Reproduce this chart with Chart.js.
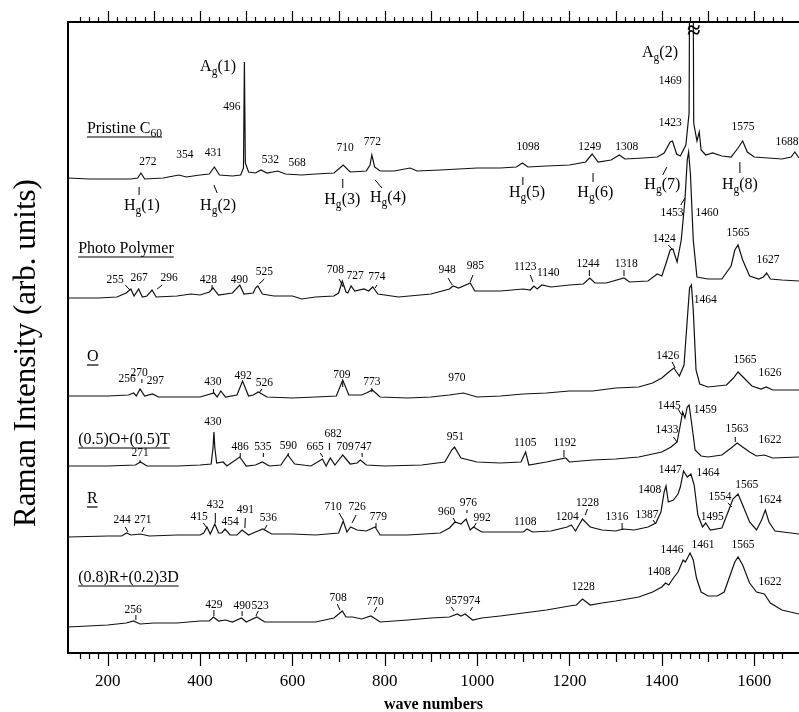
<!DOCTYPE html>
<html><head><meta charset="utf-8">
<script src="https://cdn.jsdelivr.net/npm/chart.js@4/dist/chart.umd.min.js"></script>
<style>html,body{margin:0;padding:0;background:#fff;}canvas{display:block;}</style>
</head><body>
<canvas id="c" width="799" height="712"></canvas>
<script>
// ---- axis ----
const tickLabels = [200,400,600,800,1000,1200,1400,1600];
const xMin = 114, xMax = 1697;

// ---- spectra (wave number, intensity in arb. units) ----
const pristineW = [114,160,200,250,265,272,280,320,354,370,400,420,431,442,470,488,494,496,498,505,520,532,545,568,585,620,650,690,710,725,760,768,772,778,790,820,855,870,920,960,1000,1050,1085,1098,1110,1150,1200,1235,1249,1262,1290,1308,1320,1360,1390,1405,1418,1423,1432,1440,1452,1459,1462,1466,1469,1476,1481,1485,1495,1510,1530,1550,1565,1575,1585,1600,1630,1660,1680,1688,1697];
const pristineI = [475,474,474,474,475,480,474,475,478,476,478,479,486,478,477,478,485,591,490,481,480,483,480,482,479,478,479,480,488,481,482,488,498,486,482,482,485,482,483,484,485,485,486,490,486,487,488,491,499,491,493,498,494,495,496,500,511,512,499,497,508,540,900,900,530,512,521,503,498,500,497,496,505,512,501,496,495,494,496,501,495];

const polymerW = [114,180,220,240,250,257,267,275,285,296,305,350,380,400,420,428,440,470,486,495,515,520,525,535,560,600,620,650,690,700,708,716,720,727,735,755,765,774,785,830,900,940,948,960,985,995,1050,1100,1115,1123,1130,1140,1160,1200,1230,1244,1255,1280,1318,1330,1370,1390,1400,1410,1418,1424,1433,1442,1450,1455,1458,1462,1468,1476,1500,1530,1550,1558,1565,1575,1590,1610,1620,1627,1635,1660,1697];
const polymerI = [355,355,356,360,364,357,364,356,357,363,356,357,359,358,361,365,358,360,368,359,360,365,367,359,357,357,354,356,357,360,372,361,360,367,362,364,362,366,359,356,359,364,367,365,370,362,362,364,363,367,364,368,366,368,369,375,370,370,375,371,372,379,377,391,403,404,391,413,453,493,501,478,413,376,374,374,387,403,408,393,377,374,376,380,374,373,372];

const oW = [114,200,245,256,262,270,280,297,310,400,430,437,445,455,480,492,505,515,526,545,600,650,695,709,722,750,760,773,790,850,900,940,970,1000,1050,1100,1150,1200,1250,1300,1350,1380,1400,1415,1426,1438,1448,1455,1460,1464,1468,1474,1482,1500,1540,1555,1565,1580,1595,1615,1626,1640,1697];
const oI = [257,257,258,260,257,264,257,259,256,256,260,256,262,256,258,272,257,258,261,256,255,256,257,273,258,258,260,263,256,255,256,258,260,256,257,259,260,262,262,265,266,270,275,281,285,277,288,333,365,368,343,283,269,266,268,275,281,274,267,264,266,263,263];

const otW = [114,200,260,271,285,350,400,424,428,430,432,436,450,458,486,500,520,535,550,575,590,605,640,665,673,682,692,709,725,740,747,760,800,880,930,945,951,965,1000,1050,1095,1105,1112,1150,1192,1200,1250,1300,1350,1400,1420,1433,1440,1445,1450,1455,1459,1465,1472,1485,1500,1530,1550,1563,1575,1590,1605,1622,1640,1697];
const otI = [187,187,188,191,187,187,188,189,205,221,205,190,191,187,196,187,188,191,187,188,198,189,187,194,187,195,188,198,189,190,193,188,187,188,191,203,206,195,191,190,191,201,188,191,195,191,193,194,196,201,206,211,228,241,235,246,248,228,203,197,196,198,205,210,206,201,197,198,195,196];

const rW = [114,200,230,241,250,271,290,350,400,408,415,422,432,440,447,454,465,480,491,505,520,536,555,600,650,700,710,718,726,740,760,779,790,850,920,940,952,965,976,985,992,1010,1050,1100,1108,1120,1160,1195,1204,1213,1228,1245,1270,1300,1316,1340,1370,1387,1398,1405,1409,1414,1425,1435,1440,1447,1455,1463,1470,1478,1488,1495,1505,1530,1545,1554,1565,1575,1590,1605,1616,1624,1632,1645,1697];
const rI = [116,117,117,120,118,119,117,118,118,120,126,119,129,120,120,124,118,118,123,118,121,124,119,119,118,120,132,121,126,123,122,126,118,118,120,125,131,129,134,123,126,121,121,121,124,121,122,126,128,122,134,126,123,122,124,123,126,130,141,161,167,151,153,159,166,182,176,179,168,138,126,130,123,125,143,154,159,148,131,123,133,143,131,122,119];

const r3dW = [114,200,240,256,270,300,350,400,420,429,440,455,470,490,500,523,540,600,650,690,708,716,730,750,770,790,850,900,940,957,965,974,990,1010,1050,1100,1150,1200,1215,1228,1245,1270,1300,1350,1380,1400,1408,1415,1425,1435,1446,1451,1461,1468,1475,1485,1500,1520,1535,1548,1558,1565,1575,1590,1605,1622,1635,1660,1697];
const r3dI = [26,28,30,32,29,30,30,32,32,36,32,33,31,35,31,36,31,31,31,35,42,36,36,34,37,31,33,35,36,39,37,39,33,35,37,40,43,47,48,54,48,50,52,56,61,66,70,68,75,81,93,91,100,93,75,61,57,57,61,78,91,96,88,70,61,59,50,43,39];

// ---- text annotations (position in wave number / intensity) ----
const annotations = [
 {t:'Pristine C_{60}', w:155, i:524, k:'s'},
 {t:'A_{g}(1)', w:439, i:586, k:'h'},
 {t:'496', w:469, i:546},
 {t:'272', w:287, i:491},{t:'354', w:367, i:498},{t:'431', w:429, i:500},
 {t:'532', w:552, i:493},{t:'568', w:610, i:490},{t:'710', w:714, i:505},
 {t:'772', w:773, i:511},{t:'1098', w:1110, i:506},{t:'1249', w:1244, i:506},
 {t:'1308', w:1324, i:506},{t:'1423', w:1418, i:530},{t:'1469', w:1418, i:572},
 {t:'A_{g}(2)', w:1396, i:600, k:'h'},
 {t:'1575', w:1576, i:526},{t:'1688', w:1671, i:511},
 {t:'≈', w:1469, i:621, k:'b'},
 {t:'H_{g}(1)', w:274, i:447, k:'h', l:[268,466,268,458]},
 {t:'H_{g}(2)', w:439, i:447, k:'h', l:[430,468,437,460]},
 {t:'H_{g}(3)', w:708, i:453, k:'h', l:[709,474,709,465]},
 {t:'H_{g}(4)', w:807, i:455, k:'h', l:[779,473,794,465]},
 {t:'H_{g}(5)', w:1108, i:460, k:'h', l:[1099,476,1099,468]},
 {t:'H_{g}(6)', w:1256, i:460, k:'h', l:[1251,480,1251,471]},
 {t:'H_{g}(7)', w:1401, i:468, k:'h', l:[1411,486,1402,478]},
 {t:'H_{g}(8)', w:1569, i:468, k:'h', l:[1569,491,1569,480]},

 {t:'Photo Polymer', w:136, i:404, k:'s'},
 {t:'255', w:216, i:373, l:[238,368,248,363]},{t:'267', w:268, i:375},
 {t:'296', w:333, i:375, l:[318,368,307,364]},{t:'428', w:418, i:373, l:[426,368,426,364]},
 {t:'490', w:485, i:373},{t:'525', w:539, i:381, l:[539,374,528,369]},
 {t:'708', w:693, i:383, l:[701,374,710,366]},{t:'727', w:736, i:377},
 {t:'774', w:783, i:376, l:[783,368,779,365]},{t:'948', w:935, i:383, l:[937,375,946,368]},
 {t:'985', w:996, i:387, l:[991,378,985,371]},{t:'1123', w:1104, i:386, l:[1115,378,1121,371]},
 {t:'1140', w:1154, i:380},{t:'1244', w:1240, i:389, l:[1243,383,1243,377]},
 {t:'1318', w:1323, i:389, l:[1318,383,1318,377]},{t:'1424', w:1405, i:414, l:[1414,408,1424,403]},
 {t:'1453', w:1422, i:440, l:[1441,448,1450,455]},{t:'1460', w:1498, i:440},
 {t:'1565', w:1565, i:420},{t:'1627', w:1630, i:393},

 {t:'O', w:155, i:296, k:'s'},
 {t:'270', w:268, i:280, l:[274,274,274,270]},{t:'256', w:242, i:274},{t:'297', w:303, i:272},
 {t:'430', w:428, i:271, l:[429,264,429,260]},{t:'492', w:493, i:277},
 {t:'526', w:539, i:270, l:[534,264,528,260]},{t:'709', w:707, i:278, l:[709,271,709,266]},
 {t:'773', w:772, i:271, l:[772,265,772,261]},{t:'970', w:956, i:275},
 {t:'1426', w:1413, i:297, l:[1422,291,1429,285]},{t:'1464', w:1494, i:353},
 {t:'1565', w:1580, i:293},{t:'1626', w:1634, i:280},

 {t:'(0.5)O+(0.5)T', w:136, i:213, k:'s'},
 {t:'430', w:428, i:231},{t:'271', w:270, i:200, l:[270,193,270,190]},
 {t:'486', w:487, i:206, l:[487,200,487,196]},{t:'535', w:536, i:206, l:[537,200,537,196]},
 {t:'590', w:591, i:207, l:[591,200,591,197]},{t:'665', w:649, i:206, l:[660,200,666,196]},
 {t:'682', w:688, i:219, l:[680,210,680,203]},{t:'709', w:714, i:206},
 {t:'747', w:753, i:206, l:[751,200,751,196]},{t:'951', w:953, i:216},
 {t:'1105', w:1104, i:210},{t:'1192', w:1190, i:210, l:[1188,203,1188,196]},
 {t:'1445', w:1416, i:247, l:[1435,244,1443,238]},{t:'1459', w:1494, i:243},
 {t:'1433', w:1411, i:223, l:[1425,216,1433,211]},{t:'1563', w:1563, i:224, l:[1559,216,1559,211]},
 {t:'1622', w:1634, i:213},

 {t:'R', w:155, i:154, k:'s'},
 {t:'244', w:231, i:133, l:[238,126,244,121]},{t:'271', w:276, i:133, l:[279,126,274,121]},
 {t:'415', w:398, i:136, l:[407,130,415,125]},{t:'432', w:433, i:148, l:[433,140,433,130]},
 {t:'454', w:465, i:131},{t:'491', w:498, i:143, l:[498,135,497,125]},
 {t:'536', w:548, i:135, l:[545,128,539,123]},{t:'710', w:688, i:146, l:[701,140,710,133]},
 {t:'726', w:740, i:146, l:[738,138,729,130]},{t:'779', w:786, i:136, l:[781,130,781,125]},
 {t:'960', w:934, i:141, l:[948,135,954,130]},{t:'976', w:981, i:150, l:[978,143,978,140]},
 {t:'992', w:1011, i:135, l:[998,130,993,126]},{t:'1108', w:1104, i:131},
 {t:'1204', w:1195, i:136},{t:'1228', w:1239, i:150, l:[1239,144,1234,138]},
 {t:'1316', w:1303, i:136, l:[1314,130,1314,123]},{t:'1387', w:1368, i:138, l:[1381,133,1387,129]},
 {t:'1408', w:1374, i:163},{t:'1447', w:1418, i:183},{t:'1464', w:1500, i:180},
 {t:'1495', w:1509, i:136},{t:'1554', w:1526, i:156, l:[1543,150,1552,146]},
 {t:'1565', w:1584, i:168},{t:'1624', w:1634, i:153},

 {t:'(0.8)R+(0.2)3D', w:136, i:75, k:'s'},
 {t:'256', w:255, i:43, l:[261,38,261,33]},{t:'429', w:430, i:48, l:[430,43,430,37]},
 {t:'490', w:491, i:47, l:[491,42,491,37]},{t:'523', w:530, i:47, l:[526,42,521,37]},
 {t:'708', w:699, i:55, l:[697,49,703,43]},{t:'770', w:779, i:51, l:[783,46,777,41]},
 {t:'957', w:950, i:52, l:[944,46,950,42]},{t:'974', w:988, i:52, l:[990,46,985,42]},
 {t:'1228', w:1230, i:66},{t:'1408', w:1394, i:81},{t:'1446', w:1422, i:103},
 {t:'1461', w:1489, i:108},{t:'1565', w:1576, i:108},{t:'1622', w:1634, i:71}
];

const FAM = '"Liberation Serif","Times New Roman",Times,serif';

function pairs(ws, is) { return ws.map((w, k) => ({x: w, y: is[k]})); }

function drawRich(ctx, text, x, y, size, align, underline, bold) {
  const parts = []; const re = /_\{([^}]*)\}/g; let last = 0, m;
  while ((m = re.exec(text))) {
    if (m.index > last) parts.push({s: text.slice(last, m.index), sub: false});
    parts.push({s: m[1], sub: true}); last = re.lastIndex;
  }
  if (last < text.length) parts.push({s: text.slice(last), sub: false});
  let total = 0;
  for (const p of parts) {
    ctx.font = (bold ? 'bold ' : '') + (p.sub ? size * 0.72 : size) + 'px ' + FAM;
    p.w = ctx.measureText(p.s).width; total += p.w;
  }
  const x0 = align === 'left' ? x : x - total / 2;
  let cx = x0;
  ctx.textAlign = 'left'; ctx.textBaseline = 'middle';
  for (const p of parts) {
    ctx.font = (bold ? 'bold ' : '') + (p.sub ? size * 0.72 : size) + 'px ' + FAM;
    ctx.fillText(p.s, cx, y + (p.sub ? size * 0.34 : 0));
    cx += p.w;
  }
  if (underline) {
    ctx.lineWidth = 1.2; ctx.beginPath();
    ctx.moveTo(x0, y + size * 0.5); ctx.lineTo(x0 + total, y + size * 0.5); ctx.stroke();
  }
}

const annotationPlugin = {
  id: 'annotations',
  afterDatasetsDraw(chart) {
    const {ctx, scales: {x, y}} = chart;
    ctx.save();
    ctx.fillStyle = '#000'; ctx.strokeStyle = '#000';
    for (const a of annotations) {
      const k = a.k || 'n';
      const size = k === 's' ? 16 : k === 'h' ? 16 : k === 'b' ? 24 : 11.5;
      drawRich(ctx, a.t, x.getPixelForValue(a.w), y.getPixelForValue(a.i), size,
               k === 's' ? 'left' : 'center', k === 's', k === 'b');
      if (a.l) {
        ctx.lineWidth = 1; ctx.beginPath();
        ctx.moveTo(x.getPixelForValue(a.l[0]), y.getPixelForValue(a.l[1]));
        ctx.lineTo(x.getPixelForValue(a.l[2]), y.getPixelForValue(a.l[3]));
        ctx.stroke();
      }
    }
    ctx.restore();
  }
};

const tickPlugin = {
  id: 'minorTicks',
  afterDraw(chart) {
    const {ctx, chartArea: area} = chart;
    ctx.save(); ctx.strokeStyle = '#000'; ctx.lineWidth = 1.2;
    const xs = chart.scales.x, xt = chart.scales.x2;
    for (const t of xs.ticks) {
      const v = t.value; if (Math.abs(v % 20) > 1e-6) continue;
      const len = v % 200 === 0 ? 13 : (v % 100 === 0 ? 9 : 6);
      const px = Math.round(xs.getPixelForValue(v)) + 0.5;
      ctx.beginPath(); ctx.moveTo(px, area.bottom); ctx.lineTo(px, area.bottom + len); ctx.stroke();
    }
    for (const t of xt.ticks) {
      const v = t.value; if (Math.abs(v % 20) > 1e-6) continue;
      const len = v % 100 === 0 ? 11 : 5;
      const px = Math.round(xt.getPixelForValue(v)) + 0.5;
      ctx.beginPath(); ctx.moveTo(px, area.top); ctx.lineTo(px, area.top - len); ctx.stroke();
    }
    ctx.restore();
  }
};

const lineStyle = {borderColor: '#111', borderWidth: 1.2, pointRadius: 0, fill: false, tension: 0};

new Chart(document.getElementById('c'), {
  type: 'line',
  data: {
    datasets: [
      {label: 'Pristine C60', data: pairs(pristineW, pristineI), ...lineStyle},
      {label: 'Photo Polymer', data: pairs(polymerW, polymerI), ...lineStyle},
      {label: 'O', data: pairs(oW, oI), ...lineStyle},
      {label: '(0.5)O+(0.5)T', data: pairs(otW, otI), ...lineStyle},
      {label: 'R', data: pairs(rW, rI), ...lineStyle},
      {label: '(0.8)R+(0.2)3D', data: pairs(r3dW, r3dI), ...lineStyle}
    ]
  },
  options: {
    responsive: false, devicePixelRatio: 1, animation: false,
    layout: {padding: {top: 22, right: 0, bottom: 0, left: 0}},
    plugins: {legend: {display: false}, tooltip: {enabled: false}},
    scales: {
      x: {
        type: 'linear', position: 'bottom', min: xMin, max: xMax,
        grid: {display: true, drawOnChartArea: false, drawTicks: true, tickLength: 20.5, color: 'rgba(0,0,0,0)'},
        border: {display: true, color: '#000', width: 2},
        ticks: {stepSize: 20, autoSkip: false, maxRotation: 0, padding: 0, color: '#000',
                font: {family: FAM, size: 17, lineHeight: 1},
                callback: v => tickLabels.includes(v) ? String(v) : ''},
        title: {display: true, text: 'wave numbers', color: '#000', padding: {top: 7.5, bottom: 0},
                font: {family: FAM, size: 16, weight: 'bold', lineHeight: 0.875}}
      },
      x2: {
        type: 'linear', position: 'top', min: xMin, max: xMax,
        grid: {display: false, drawTicks: false},
        border: {display: true, color: '#000', width: 2},
        ticks: {stepSize: 20, display: false}
      },
      y: {
        type: 'linear', position: 'left', min: 0, max: 631,
        grid: {display: false, drawTicks: false},
        border: {display: true, color: '#000', width: 2},
        ticks: {display: false},
        title: {display: true, text: 'Raman Intensity (arb. units)\u00a0\u00a0\u00a0\u00a0', color: '#000',
                padding: {top: 8.5, bottom: 22.3},
                font: {family: FAM, size: 31, lineHeight: 1.2}}
      }
    }
  },
  plugins: [annotationPlugin, tickPlugin]
});
</script>
</body></html>
